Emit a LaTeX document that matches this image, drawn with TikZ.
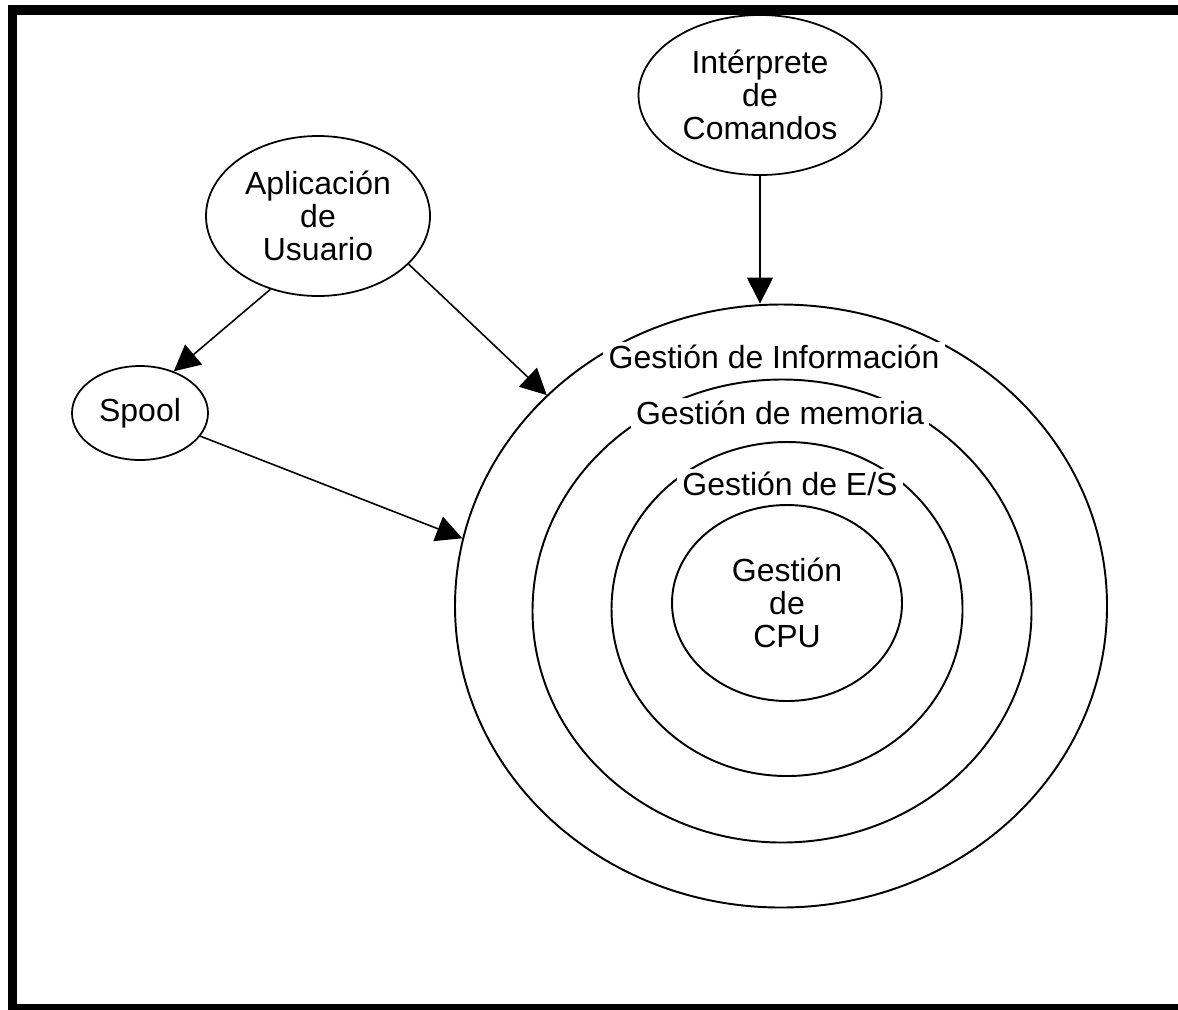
\documentclass[tikz,border=0pt]{standalone}
\usepackage{fontspec}
\setmainfont{Liberation Sans}
\usetikzlibrary{arrows.meta, shapes.geometric, positioning}
\tikzset{
  proc/.style={ellipse, draw, line width=0.5pt, align=center, inner sep=0pt},
  ring/.style={ellipse, draw, line width=0.55pt, inner sep=0pt},
  ringlbl/.style={fill=white, inner xsep=1.5pt, inner ysep=1pt},
  arr/.style={-{Triangle[length=2.6mm, width=2.6mm]}, line width=0.45pt},
  frame/.style={line width=2.7pt},
}

\begin{document}
\begin{tikzpicture}[x=0.1mm, y=-0.1mm, font=\fontsize{9.1pt}{9.4pt}\selectfont]

  \useasboundingbox (0,0) rectangle (1178,1009);
  \clip (0,0) rectangle (1178,1009);
  \draw[frame] (12.5,10) rectangle (1220,1009);

  % capas del sistema operativo
  \node[ring, minimum width=65.2mm, minimum height=60.3mm] (info) at (781,606) {};
  \node[ring, minimum width=49.9mm, minimum height=46.3mm] (mem) at (782,611) {};
  \node[ring, minimum width=35.1mm, minimum height=33.4mm] (es) at (787,609) {};
  \node[ring, minimum width=23mm, minimum height=19.6mm, align=center] (cpu) at (787,603)
    {Gestión\\de\\CPU};

  \node[ringlbl] (infolbl) at (774,357) {Gestión de Información};
  \node[ringlbl] (memlbl) at (780,413) {Gestión de memoria};
  \node[ringlbl] (eslbl) at (790,484) {Gestión de E/S};

  % procesos externos
  \node[proc, minimum width=24.3mm, minimum height=16mm] (cmd) at (760,95)
    {Intérprete\\de\\Comandos};
  \node[proc, minimum width=22.4mm, minimum height=16mm] (app) at (318,216)
    {Aplicación\\de\\Usuario};
  \node[proc, minimum width=13.6mm, minimum height=9.4mm] (spool) at (140,413) {Spool};

  \draw[arr] (cmd) -- (cmd |- info.north);
  \draw[arr] (app.-123) -- (spool.51);
  \draw[arr] (app.-28) -- (info.138);
  \draw[arr] (spool.-21) -- (info.168.6);

\end{tikzpicture}
\end{document}
